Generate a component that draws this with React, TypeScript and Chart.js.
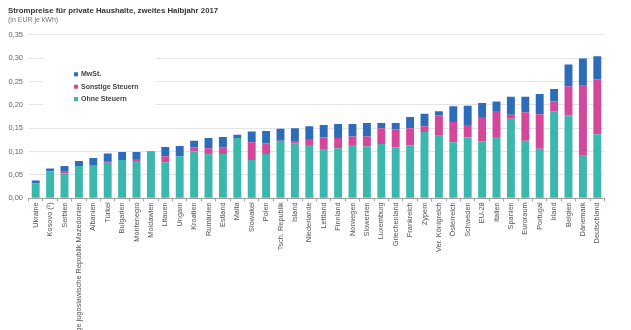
import React, { useEffect, useRef } from "react";
import { Chart, registerables } from "chart.js";

Chart.register(...registerables);

const TITLE = "Strompreise für private Haushalte, zweites Halbjahr 2017";
const SUBTITLE = "(in EUR je kWh)";

const categories = [
  "Ukraine", "Kosovo (¹)", "Serbien", "Ehemalige jugoslawische Republik Mazedonien", "Albanien",
  "Türkei", "Bulgarien", "Montenegro", "Moldawien", "Litauen",
  "Ungarn", "Kroatien", "Rumänien", "Estland", "Malta",
  "Slowakei", "Polen", "Tsch. Republik", "Island", "Niederlande",
  "Lettland", "Finnland", "Norwegen", "Slowenien", "Luxemburg",
  "Griechenland", "Frankreich", "Zypern", "Ver. Königreich", "Österreich",
  "Schweden", "EU-28", "Italien", "Spanien", "Euroraum",
  "Portugal", "Irland", "Belgien", "Dänemark", "Deutschland",
];

const ohneSteuern = [
  0.032, 0.058, 0.053, 0.069, 0.071,
  0.076, 0.082, 0.080, 0.100, 0.077,
  0.090, 0.100, 0.094, 0.095, 0.129,
  0.082, 0.095, 0.121, 0.118, 0.114,
  0.104, 0.107, 0.114, 0.111, 0.116,
  0.109, 0.113, 0.142, 0.134, 0.120,
  0.130, 0.122, 0.131, 0.170, 0.123,
  0.106, 0.186, 0.177, 0.091, 0.137,
];

const sonstigeSteuern = [
  0.000, 0.000, 0.004, 0.000, 0.000,
  0.004, 0.000, 0.004, 0.000, 0.013,
  0.000, 0.009, 0.013, 0.014, 0.000,
  0.038, 0.022, 0.002, 0.003, 0.013,
  0.026, 0.022, 0.018, 0.021, 0.034,
  0.038, 0.037, 0.012, 0.043, 0.043,
  0.027, 0.052, 0.056, 0.009, 0.061,
  0.074, 0.021, 0.062, 0.150, 0.117,
];

const mwst = [
  0.006, 0.006, 0.012, 0.011, 0.015,
  0.016, 0.017, 0.015, 0.001, 0.020,
  0.022, 0.014, 0.022, 0.022, 0.007,
  0.023, 0.027, 0.026, 0.029, 0.027,
  0.027, 0.030, 0.027, 0.029, 0.011,
  0.014, 0.024, 0.027, 0.009, 0.034,
  0.041, 0.030, 0.020, 0.038, 0.033,
  0.043, 0.027, 0.047, 0.058, 0.050,
];

const Y_MIN = 0;
const Y_MAX = 0.35;
const Y_STEP = 0.05;

const seriesNames = ["MwSt.", "Sonstige Steuern", "Ohne Steuern"];

const COLOR_TEAL = "#3CB7AD";
const COLOR_PINK = "#D4489B";
const COLOR_BLUE = "#2C6CB9";
const FONT = "'Liberation Sans', Arial, sans-serif";

const overlayPlugin = {
  id: "overlay",
  afterDatasetsDraw(chart: any) {
    const ctx = chart.ctx;
    ctx.save();
    // legend box
    ctx.fillStyle = "#ffffff";
    ctx.fillRect(43, 52, 113, 58);
    const items = [
      { name: seriesNames[0], color: COLOR_BLUE, y: 74.3 },
      { name: seriesNames[1], color: COLOR_PINK, y: 86.7 },
      { name: seriesNames[2], color: COLOR_TEAL, y: 99 },
    ];
    ctx.textBaseline = "middle";
    ctx.textAlign = "left";
    ctx.font = `bold 7px ${FONT}`;
    for (const it of items) {
      ctx.fillStyle = it.color;
      ctx.fillRect(74, it.y - 2, 4, 4);
      ctx.fillStyle = "#444";
      ctx.fillText(it.name, 81, it.y);
    }
    ctx.restore();
  },
  afterDraw(chart: any) {
    const ctx = chart.ctx;
    ctx.save();
    ctx.textBaseline = "middle";
    ctx.textAlign = "left";
    ctx.fillStyle = "#333";
    ctx.font = `bold 7.8px ${FONT}`;
    ctx.fillText(TITLE, 8, 11);
    ctx.fillStyle = "#777";
    ctx.font = `7px ${FONT}`;
    ctx.fillText(SUBTITLE, 8, 20.5);
    ctx.restore();
  },
};

export default function App() {
  const ref = useRef<HTMLCanvasElement | null>(null);

  useEffect(() => {
    if (!ref.current) return;
    const chart = new Chart(ref.current, {
      type: "bar",
      data: {
        labels: categories,
        datasets: [
          {
            label: seriesNames[2],
            data: ohneSteuern,
            backgroundColor: COLOR_TEAL,
            barPercentage: 0.55,
            categoryPercentage: 1,
          },
          {
            label: seriesNames[1],
            data: sonstigeSteuern,
            backgroundColor: COLOR_PINK,
            barPercentage: 0.55,
            categoryPercentage: 1,
          },
          {
            label: seriesNames[0],
            data: mwst,
            backgroundColor: COLOR_BLUE,
            barPercentage: 0.55,
            categoryPercentage: 1,
          },
        ],
      },
      options: {
        responsive: false,
        animation: false,
        devicePixelRatio: 1,
        layout: { padding: { top: 34.7, right: 26.5, left: 0, bottom: 0 } },
        plugins: {
          legend: { display: false },
          title: { display: false },
          tooltip: { enabled: false },
        },
        scales: {
          x: {
            stacked: true,
            afterFit: (scale: any) => {
              scale.height = 131.7;
            },
            grid: {
              drawOnChartArea: false,
              drawTicks: true,
              tickLength: 3,
              color: "#a0a0a0",
            },
            border: { display: true, color: "#a0a0a0", width: 1 },
            ticks: {
              autoSkip: false,
              minRotation: 90,
              maxRotation: 90,
              padding: 1,
              color: "#555",
              font: { family: FONT, size: 7.4 },
            },
          },
          y: {
            stacked: true,
            min: Y_MIN,
            max: Y_MAX,
            afterFit: (scale: any) => {
              scale.width = 28.5;
            },
            grid: {
              color: "#e4e4e4",
              lineWidth: 1,
              drawTicks: false,
            },
            border: { display: false },
            ticks: {
              stepSize: Y_STEP,
              padding: 5.5,
              color: "#666",
              font: { family: FONT, size: 7.5 },
              callback: (v: any) => Number(v).toFixed(2).replace(".", ","),
            },
          },
        },
      },
      plugins: [overlayPlugin],
    });
    return () => chart.destroy();
  }, []);

  return (
    <div style={{ position: "fixed", left: 0, top: 0, width: 631, height: 330, background: "#fff" }}>
      <canvas ref={ref} width={631} height={330} />
    </div>
  );
}
